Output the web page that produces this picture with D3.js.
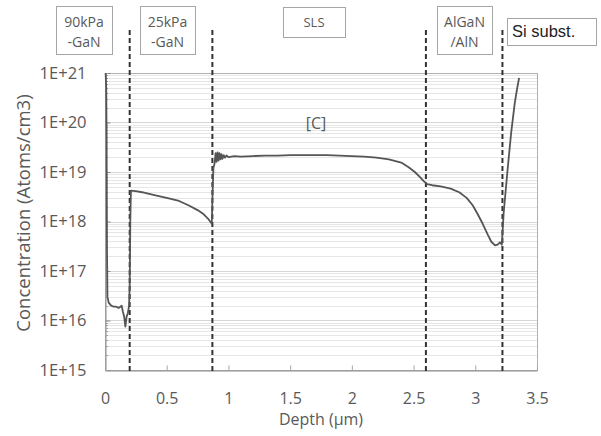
<!DOCTYPE html>
<html>
<head>
    <script src="https://d3js.org/d3.v7.min.js"></script>
    <style>
        body {
            margin: 0;
            background-color: white;
        }
        text {
            font-family: 'Open Sans', sans-serif;
            fill: #595959;
        }
        .grid-major { stroke: #d6d6d6; stroke-width: 1px; }
        .grid-minor { stroke: #e6e6e6; stroke-width: 1px; }
        .boundary {
            stroke: #333;
            stroke-width: 2px;
            stroke-dasharray: 5, 3;
        }
        .layer-box { fill: white; stroke: #a6a6a6; stroke-width: 1px; }
        .profile { fill: none; stroke: #555; stroke-width: 1.8px; stroke-linejoin: round; }
    </style>
</head>
<body>
    <script>
        // carbon SIMS profile
        const depth = [0.005, 0.01, 0.013, 0.016, 0.02, 0.03, 0.05, 0.07, 0.09, 0.11, 0.125, 0.135, 0.145, 0.155, 0.165, 0.175, 0.185, 0.195, 0.2, 0.205,
            0.21, 0.25, 0.3, 0.4, 0.5, 0.6, 0.68, 0.75, 0.8, 0.84, 0.865,
            0.872, 0.878, 0.888, 0.896, 0.904, 0.912, 0.92, 0.928, 0.936, 0.944, 0.952, 0.962, 0.972, 0.985, 1.0, 1.05,
            1.1, 1.2, 1.3, 1.4, 1.5, 1.6, 1.7, 1.8, 1.9, 2.0, 2.1, 2.2, 2.3, 2.4, 2.46, 2.51, 2.55, 2.58, 2.61,
            2.65, 2.72, 2.8, 2.87, 2.93, 2.98, 3.02, 3.06, 3.1, 3.13, 3.16, 3.18, 3.2, 3.215,
            3.23, 3.26, 3.29, 3.32, 3.34, 3.355];
        const conc = [1e21, 5e20, 5e19, 3e17, 3e16, 2.3e16, 2.0e16, 1.9e16, 1.9e16, 1.8e16, 1.9e16, 2.0e16, 1.5e16, 1.2e16, 7.5e15, 1.2e16, 1.4e16, 2.0e16, 5e16, 1e18,
            4.2e18, 4.1e18, 3.9e18, 3.4e18, 3.0e18, 2.6e18, 2.1e18, 1.7e18, 1.4e18, 1.1e18, 9e17,
            4e18, 1.2e19, 1.5e19, 2.4e19, 1.6e19, 2.5e19, 1.7e19, 2.4e19, 1.8e19, 2.3e19, 1.85e19, 2.2e19, 1.95e19, 2.15e19, 2.0e19, 2.1e19,
            2.05e19, 2.1e19, 2.15e19, 2.15e19, 2.2e19, 2.2e19, 2.2e19, 2.2e19, 2.15e19, 2.1e19, 2.05e19, 1.95e19, 1.8e19, 1.55e19, 1.25e19, 1.0e19, 8e18, 6.6e18, 5.7e18,
            5.4e18, 5.1e18, 4.6e18, 3.9e18, 3.0e18, 2.1e18, 1.4e18, 9e17, 5.5e17, 3.9e17, 3.3e17, 3.4e17, 3.8e17, 3.4e17,
            1.5e18, 1e19, 6e19, 2.5e20, 5e20, 8e20];

        const xTicks = [0, 0.5, 1, 1.5, 2, 2.5, 3, 3.5];
        const yTicks = [1e15, 1e16, 1e17, 1e18, 1e19, 1e20, 1e21];
        const yTickLabels = ['1E+15', '1E+16', '1E+17', '1E+18', '1E+19', '1E+20', '1E+21'];

        // layer boundaries (µm) and layer names
        const boundaries = [0.2, 0.87, 2.6, 3.22];
        const layers = [
            { lines: ['90kPa', '-GaN'], x0: 56, x1: 112, y0: 6, y1: 54 },
            { lines: ['25kPa', '-GaN'], x0: 140, x1: 195, y0: 6, y1: 54 },
            { lines: ['SLS'], x0: 283, x1: 345, y0: 7, y1: 37 },
            { lines: ['AlGaN', '/AlN'], x0: 437, x1: 492, y0: 6, y1: 54 }
        ];

        const width = 601;
        const height = 436;
        const plotL = 105, plotR = 537, plotT = 73, plotB = 370;

        const svg = d3.select('body').append('svg')
            .attr('width', width)
            .attr('height', height);

        const x = d3.scaleLinear().domain([0, 3.5]).range([plotL, plotR]);
        const y = d3.scaleLog().domain([1e15, 1e21]).range([plotB, plotT]);

        // grid: one line per decade plus 2..9 minor
        const gridVals = [];
        for (let k = 15; k < 21; k++) {
            for (let m = 1; m <= 9; m++) gridVals.push(m * Math.pow(10, k));
        }
        gridVals.push(1e21);

        svg.append('g')
            .selectAll('line')
            .data(gridVals)
            .enter().append('line')
            .attr('class', d => Math.abs(Math.log10(d) % 1) < 1e-9 ? 'grid-major' : 'grid-minor')
            .attr('x1', plotL)
            .attr('x2', plotR)
            .attr('y1', d => Math.round(y(d)) + 0.5)
            .attr('y2', d => Math.round(y(d)) + 0.5);

        // plot border
        svg.append('rect')
            .attr('x', plotL + 0.5)
            .attr('y', plotT + 0.5)
            .attr('width', plotR - plotL)
            .attr('height', plotB - plotT)
            .attr('fill', 'none')
            .attr('stroke', '#b0b0b0');

        // axes
        const xAxis = svg.append('g')
            .attr('transform', `translate(0,${plotB + 0.5})`)
            .call(d3.axisBottom(x).tickValues(xTicks).tickFormat(d3.format('')).tickSizeInner(-5).tickSizeOuter(0).tickPadding(22));
        xAxis.select('.domain').attr('stroke', '#8c8c8c');
        xAxis.selectAll('.tick line').attr('stroke', '#a6a6a6');
        xAxis.selectAll('text').style('font-size', '16px').attr('fill', '#595959');

        const yAxis = svg.append('g')
            .attr('transform', `translate(${plotL + 0.5},0)`)
            .call(d3.axisLeft(y).tickValues(yTicks).tickFormat((d, i) => yTickLabels[i]).tickSizeInner(-5).tickSizeOuter(0).tickPadding(19));
        yAxis.select('.domain').attr('stroke', '#8c8c8c');
        yAxis.selectAll('.tick line').attr('stroke', '#8c8c8c');
        yAxis.selectAll('text').style('font-size', '16.5px').attr('fill', '#595959');

        // minor ticks on y axis
        svg.append('g')
            .selectAll('line')
            .data(gridVals)
            .enter().append('line')
            .attr('x1', plotL)
            .attr('x2', plotL + 3)
            .attr('y1', d => Math.round(y(d)) + 0.5)
            .attr('y2', d => Math.round(y(d)) + 0.5)
            .attr('stroke', '#a0a0a0');

        // layer boundaries
        svg.append('g')
            .selectAll('line')
            .data(boundaries)
            .enter().append('line')
            .attr('class', 'boundary')
            .attr('x1', d => x(d))
            .attr('x2', d => x(d))
            .attr('y1', 30)
            .attr('y2', plotB + 2);

        // profile
        const line = d3.line()
            .x((d, i) => x(depth[i]))
            .y((d, i) => y(conc[i]));

        svg.append('path')
            .datum(conc)
            .attr('class', 'profile')
            .attr('d', line);

        // layer labels
        const box = svg.append('g')
            .selectAll('g')
            .data(layers)
            .enter().append('g');

        box.append('rect')
            .attr('class', 'layer-box')
            .attr('x', d => d.x0 + 0.5)
            .attr('y', d => d.y0 + 0.5)
            .attr('width', d => d.x1 - d.x0)
            .attr('height', d => d.y1 - d.y0);

        box.each(function (d) {
            const g = d3.select(this);
            const cx = (d.x0 + d.x1) / 2;
            if (d.lines.length === 1) {
                g.append('text')
                    .attr('x', cx)
                    .attr('y', 27)
                    .attr('text-anchor', 'middle')
                    .style('font-size', '13px')
                    .attr('fill', '#666')
                    .text(d.lines[0]);
            } else {
                d.lines.forEach((t, j) => {
                    g.append('text')
                        .attr('x', cx)
                        .attr('y', 27 + j * 20)
                        .attr('text-anchor', 'middle')
                        .style('font-size', '14px')
                        .attr('fill', '#666')
                        .text(t);
                });
            }
        });

        // substrate label
        svg.append('rect')
            .attr('class', 'layer-box')
            .attr('x', 507.5)
            .attr('y', 18.5)
            .attr('width', 89)
            .attr('height', 27)
            .attr('stroke', '#777');

        svg.append('text')
            .attr('x', 512)
            .attr('y', 37)
            .style('font-family', "'Liberation Sans', Arial, sans-serif")
            .style('font-size', '16.5px')
            .style('fill', '#222')
            .text('Si subst.');

        svg.append('text')
            .attr('x', 316)
            .attr('y', 129)
            .attr('text-anchor', 'middle')
            .style('font-size', '16px')
            .text('[C]');

        // axis titles
        svg.append('text')
            .attr('x', 321)
            .attr('y', 425)
            .attr('text-anchor', 'middle')
            .style('font-size', '16px')
            .text('Depth (µm)');

        svg.append('text')
            .attr('transform', 'translate(30,213) rotate(-90)')
            .attr('text-anchor', 'middle')
            .style('font-size', '18.5px')
            .text('Concentration (Atoms/cm3)');
    </script>
</body>
</html>
